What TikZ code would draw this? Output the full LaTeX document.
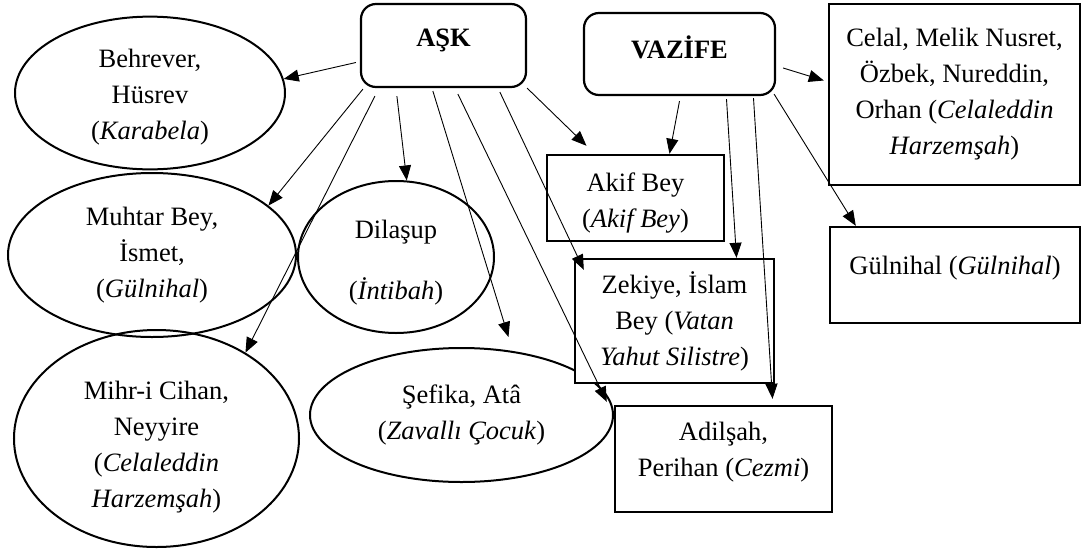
\documentclass[tikz,border=0pt]{standalone}
\usepackage{fontspec}
\setmainfont{Liberation Serif}
\usepackage{tikz}
\usetikzlibrary{positioning,arrows.meta,calc,shapes.geometric}
\newcommand{\kaydir}[2]{\raisebox{#1}[\height][\depth]{#2}}
\newcommand{\satir}[1]{\begin{tabular}{@{}c@{}}#1\end{tabular}}

\begin{document}
\begin{tikzpicture}[x=1pt, y=-1pt,
  font=\fontsize{26.5pt}{36pt}\selectfont,
  el/.style 2 args={ellipse, draw, line width=2pt, minimum width=#1, minimum height=#2,
                    inner sep=0pt, align=center},
  ku/.style 2 args={rectangle, draw, fill=white, line width=2.4pt, minimum width=#1,
                    minimum height=#2, inner sep=0pt, align=center},
  ba/.style 2 args={ku={#1}{#2}, rounded corners=15pt, line width=2.2pt},
  ok/.style={-{Triangle[length=15pt,width=12pt]}, line width=0.9pt}]

\useasboundingbox (0,0) rectangle (1082,552);

% ── AŞK tarafı : elipsler ──
\node[el={270pt}{152pt}] (behrever) at (150,93) {\kaydir{-3pt}{\satir{Behrever,\\Hüsrev\\(\emph{Karabela})}}};
\node[el={288pt}{164pt}] (muhtar) at (152,255) {Muhtar Bey,\\İsmet,\\(\emph{Gülnihal})};
\node[el={196pt}{152pt}] (dilasup) at (396,257) {\kaydir{-5pt}{\satir{Dilaşup\\[25pt](\emph{İntibah})}}};
\node[el={285pt}{217pt}] (mihr) at (156.5,438.5)
  {\kaydir{-8pt}{\satir{Mihr-i Cihan,\\Neyyire\\(\emph{Celaleddin}\\\emph{Harzemşah})}}};
\node[el={303pt}{134pt}] (sefika) at (461.5,415) {Şefika, Atâ\\(\emph{Zavallı Çocuk})};

% ── başlıklar ──
\node[ba={165pt}{83pt}] (ask) at (443.5,45.5) {\kaydir{5pt}{\textbf{AŞK}}};
\node[ba={191pt}{82pt}] (vazife) at (679.5,54) {\kaydir{7pt}{\textbf{VAZİFE}}};

% ── VAZİFE tarafı : kutular ──
\node[ku={251pt}{181pt}] (celal) at (954.5,94.5)
  {Celal, Melik Nusret,\\Özbek, Nureddin,\\Orhan (\emph{Celaleddin}\\\emph{Harzemşah})};
\node[ku={250pt}{96pt}] (gulnihal) at (955,275) {\kaydir{7pt}{Gülnihal (\emph{Gülnihal})}};
\node[ku={177pt}{86pt}] (akif) at (635.5,198) {\kaydir{-4pt}{\satir{Akif Bey\\(\emph{Akif Bey})}}};
\node[ku={199pt}{124pt}] (zekiye) at (674.5,321)
  {Zekiye, İslam\\Bey (\emph{Vatan}\\\emph{Yahut Silistre})};
\node[ku={217pt}{106pt}] (adilsah) at (723.5,459)
  {\kaydir{8pt}{\satir{Adilşah,\\Perihan (\emph{Cezmi})}}};

% ── oklar : AŞK ──
\draw[ok] ($(ask.west)+(-4,17)$) -- (behrever.6);
\draw[ok] ($(ask.south west)+(3,1)$) -- (muhtar.23);
\draw[ok] ($(ask.south west)+(15,8)$) -- (mihr.44);
\draw[ok] ($(ask.south west)+(37,8)$) -- (dilasup.82);
\draw[ok] ($(ask.south west)+(73,3)$) -- ($(sefika.north)+(47,-10)$);
\draw[ok] ($(ask.south west)+(98,6)$) -- ($(adilsah.north west)+(-7,-3)$);
\draw[ok] ($(ask.south west)+(140,4)$) -- ($(zekiye.north west)+(10,12)$);
\draw[ok] (ask.south east) -- ($(akif.north)+(-49,-8)$);

% ── oklar : VAZİFE ──
\draw[ok] ($(vazife.east)+(7,14)$) -- ($(celal.west)+(-4,-14)$);
\draw[ok] ($(vazife.south)+(0,5)$) -- ($(akif.north)+(34,0)$);
\draw[ok] ($(vazife.south)+(47,3)$) -- ($(zekiye.north)+(62,0)$);
\draw[ok] ($(vazife.south)+(74,2)$) -- ($(adilsah.north)+(49,-6)$);
\draw[ok] ($(vazife.south east)+(-2,-2)$) -- ($(gulnihal.north west)+(27,0)$);

\end{tikzpicture}
\end{document}
